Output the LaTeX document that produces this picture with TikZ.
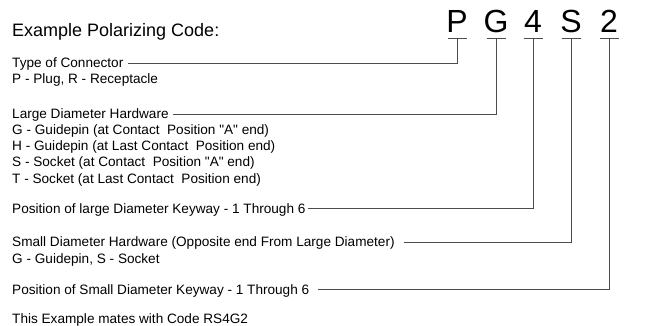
\documentclass[tikz,border=0pt]{standalone}
\usepackage{fontspec}
\setmainfont{Liberation Sans}[Ligatures=TeXOff]
\begin{document}
\begin{tikzpicture}[x=1pt,y=-1pt,
  txt/.style={font=\fontsize{13.6}{16}\selectfont, anchor=base west,
    inner sep=0pt, text height=13pt, text depth=3pt},
  ttl/.style={font=\fontsize{18}{21}\selectfont, anchor=base west, inner sep=0pt},
  code/.style={font=\fontsize{32}{36}\selectfont, anchor=base, inner sep=0pt},
  conn/.style={draw=black!70, line width=0.8pt}]
\useasboundingbox (0,0) rectangle (651,326);
% title and code letters
\node[ttl] (title) at (12,37) {Example Polarizing Code:};
\node[code] (lP) at (457,33) {P};
\node[code] (lG) at (496,33) {G};
\node[code] (l4) at (533,33) {4};
\node[code] (lS) at (571,33) {S};
\node[code] (l2) at (609,33) {2};
\coordinate (bP) at (457,38);
\coordinate (bG) at (496,38);
\coordinate (b4) at (533,38);
\coordinate (bS) at (571,38);
\coordinate (b2) at (609,38);
\foreach \b in {bP,bG,b4,bS,b2}
  \draw[conn] ([xshift=-9.5pt]\b) -- ([xshift=9.5pt]\b);
% descriptions
\node[txt] (t1) at (12,68) {Type of Connector};
\node[txt] (t1b) at (12,84) {P - Plug, R - Receptacle};
\node[txt] (t2) at (12,119) {Large Diameter Hardware};
\node[txt] (t2a) at (12,135) {G - Guidepin (at Contact~ Position "A" end)};
\node[txt] (t2b) at (12,151) {H - Guidepin (at Last Contact~ Position end)};
\node[txt] (t2c) at (12,167) {S - Socket (at Contact~ Position "A" end)};
\node[txt] (t2d) at (12,183) {T - Socket (at Last Contact~ Position end)};
\node[txt] (t3) at (12,213) {Position of large Diameter Keyway - 1 Through 6};
\node[txt] (t4) at (12,247) {Small Diameter Hardware (Opposite end From Large Diameter)};
\node[txt] (t4b) at (12,263) {G - Guidepin, S - Socket};
\node[txt] (t5) at (12,294) {Position of Small Diameter Keyway - 1 Through 6};
\node[txt] (t6) at (12,323) {This Example mates with Code RS4G2};
% connectors
\draw[conn] ([xshift=4pt]t1.east) -| (bP);
\draw[conn] ([xshift=4pt]t2.east) -| (bG);
\draw[conn] ([xshift=2pt]t3.east) -| (b4);
\draw[conn] ([xshift=9pt]t4.east) -| (bS);
\draw[conn] ([xshift=9pt]t5.east) -| (b2);
\end{tikzpicture}
\end{document}
